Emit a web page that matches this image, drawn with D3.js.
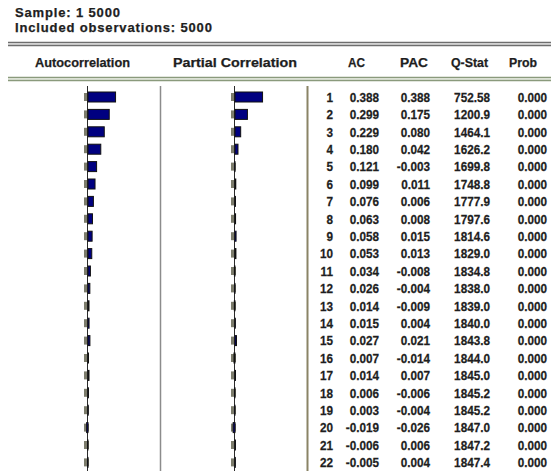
<!DOCTYPE html>
<html>
<head>
<meta charset="utf-8">
<script src="https://cdn.jsdelivr.net/npm/d3@7"></script>
<style>
  html, body { margin: 0; padding: 0; background: #fff; }
  svg { display: block; }
  text { font-family: "Liberation Sans", Arial, sans-serif; font-weight: bold; fill: #1e1e1e; stroke: #1e1e1e; stroke-width: 0.25; }
</style>
</head>
<body>
<svg id="chart" width="551" height="471"></svg>
<script>
// Correlogram of a series: sample 1 5000
const sampleLabel = "Sample: 1 5000";
const obsLabel = "Included observations: 5000";
const nObs = 5000;

const lags = d3.range(1, 23);
const ac = [0.388, 0.299, 0.229, 0.180, 0.121, 0.099, 0.076, 0.063, 0.058, 0.053, 0.034,
            0.026, 0.014, 0.015, 0.027, 0.007, 0.014, 0.006, 0.003, -0.019, -0.006, -0.005];
const pac = [0.388, 0.175, 0.080, 0.042, -0.003, 0.011, 0.006, 0.008, 0.015, 0.013, -0.008,
             -0.004, -0.009, 0.004, 0.021, -0.014, 0.007, -0.006, -0.004, -0.026, 0.006, 0.004];
const qStat = ["752.58", "1200.9", "1464.1", "1626.2", "1699.8", "1748.8", "1777.9", "1797.6",
               "1814.6", "1829.0", "1834.8", "1838.0", "1839.0", "1840.0", "1843.8", "1844.0",
               "1845.0", "1845.2", "1845.2", "1847.0", "1847.2", "1847.4"];
const prob = ["0.000", "0.000", "0.000", "0.000", "0.000", "0.000", "0.000", "0.000", "0.000",
              "0.000", "0.000", "0.000", "0.000", "0.000", "0.000", "0.000", "0.000", "0.000",
              "0.000", "0.000", "0.000", "0.000"];
const headers = ["Autocorrelation", "Partial Correlation", "AC", "PAC", "Q-Stat", "Prob"];

const fmt = d3.formatLocale({ decimal: ".", thousands: ",", grouping: [3], currency: ["", ""], minus: "-" }).format(".3f");
const svg = d3.select("#chart");

// row positions
const y = d3.scalePoint().domain(lags).range([97, 97 + 21 * 17.4]);
// bar length per unit correlation, shared by both panels
const unit = d3.scaleLinear().domain([0, 1]).range([0, 71]);
const acZero = 87, pacZero = 234;
const bound = 2 / Math.sqrt(nObs);

// sample info
[sampleLabel, obsLabel].forEach((t, i) => {
  svg.append("text").attr("x", 15).attr("y", 17 + i * 15)
     .attr("font-size", 13).attr("letter-spacing", 0.85).text(t);
});

// rules
function doubleRule(y0, c1, c2) {
  svg.append("line").attr("x1", 8).attr("x2", 551).attr("y1", y0).attr("y2", y0)
     .attr("stroke", c1).attr("stroke-width", 1.5);
  svg.append("line").attr("x1", 8).attr("x2", 551).attr("y1", y0 + 1.5).attr("y2", y0 + 1.5)
     .attr("stroke", c2).attr("stroke-width", 1);
  svg.append("line").attr("x1", 8).attr("x2", 551).attr("y1", y0 + 3).attr("y2", y0 + 3)
     .attr("stroke", c1).attr("stroke-width", 1.5);
}
doubleRule(42.5, "#6e6e6e", "#c8c8c8");
doubleRule(77.5, "#8a9a7c", "#d4dccb");

// column headers
const headX = [35, 173, 348, 400, 451, 509];
const headW = [95, 124, 17, 28, 37, 28];
svg.selectAll("text.head").data(headers).join("text")
  .attr("class", "head")
  .attr("x", (d, i) => headX[i]).attr("y", 67)
  .attr("font-size", 12.5)
  .attr("textLength", (d, i) => headW[i]).attr("lengthAdjust", "spacingAndGlyphs")
  .text(d => d);

// separators
svg.append("line").attr("x1", 160.5).attr("x2", 160.5).attr("y1", 86).attr("y2", 471)
   .attr("stroke", "#8c8c8c").attr("stroke-width", 1.5);
svg.append("line").attr("x1", 307.5).attr("x2", 307.5).attr("y1", 86).attr("y2", 471)
   .attr("stroke", "#8a8466").attr("stroke-width", 2);

// one bar panel: zero axis, ±2 s.e. marks, bars
function panel(zero, values) {
  const g = svg.append("g");
  g.selectAll("rect.band").data(lags).join("rect")
    .attr("x", zero - unit(bound) - 1).attr("width", unit(bound) * 2 + 1)
    .attr("y", d => y(d) - 4).attr("height", 8)
    .attr("fill", "#7c7c6c");
  g.append("line").attr("x1", zero + 0.5).attr("x2", zero + 0.5)
    .attr("y1", 86).attr("y2", 471).attr("stroke", "#2a2a2a").attr("stroke-width", 1);
  g.selectAll("rect.bar").data(values).join("rect")
    .attr("x", d => zero + 1 + Math.min(0, unit(d)))
    .attr("width", d => Math.abs(unit(d)))
    .attr("y", (d, i) => y(lags[i]) - 5).attr("height", 10)
    .attr("fill", "#000080").attr("stroke", "#111").attr("stroke-width", 1);
}
panel(acZero, ac);
panel(pacZero, pac);

// numeric table, right-aligned columns in a slightly narrowed face
const cols = [
  { x: 333, v: lags.map(String) },
  { x: 379, v: ac.map(fmt) },
  { x: 430, v: pac.map(fmt) },
  { x: 490, v: qStat },
  { x: 547, v: prob }
];
cols.forEach(c => {
  svg.append("g").selectAll("text").data(lags).join("text")
    .attr("transform", d => `translate(${c.x},${y(d) + 4.8}) scale(0.87,1)`)
    .attr("text-anchor", "end").attr("font-size", 13.5)
    .text((d, i) => c.v[i]);
});
</script>
</body>
</html>
